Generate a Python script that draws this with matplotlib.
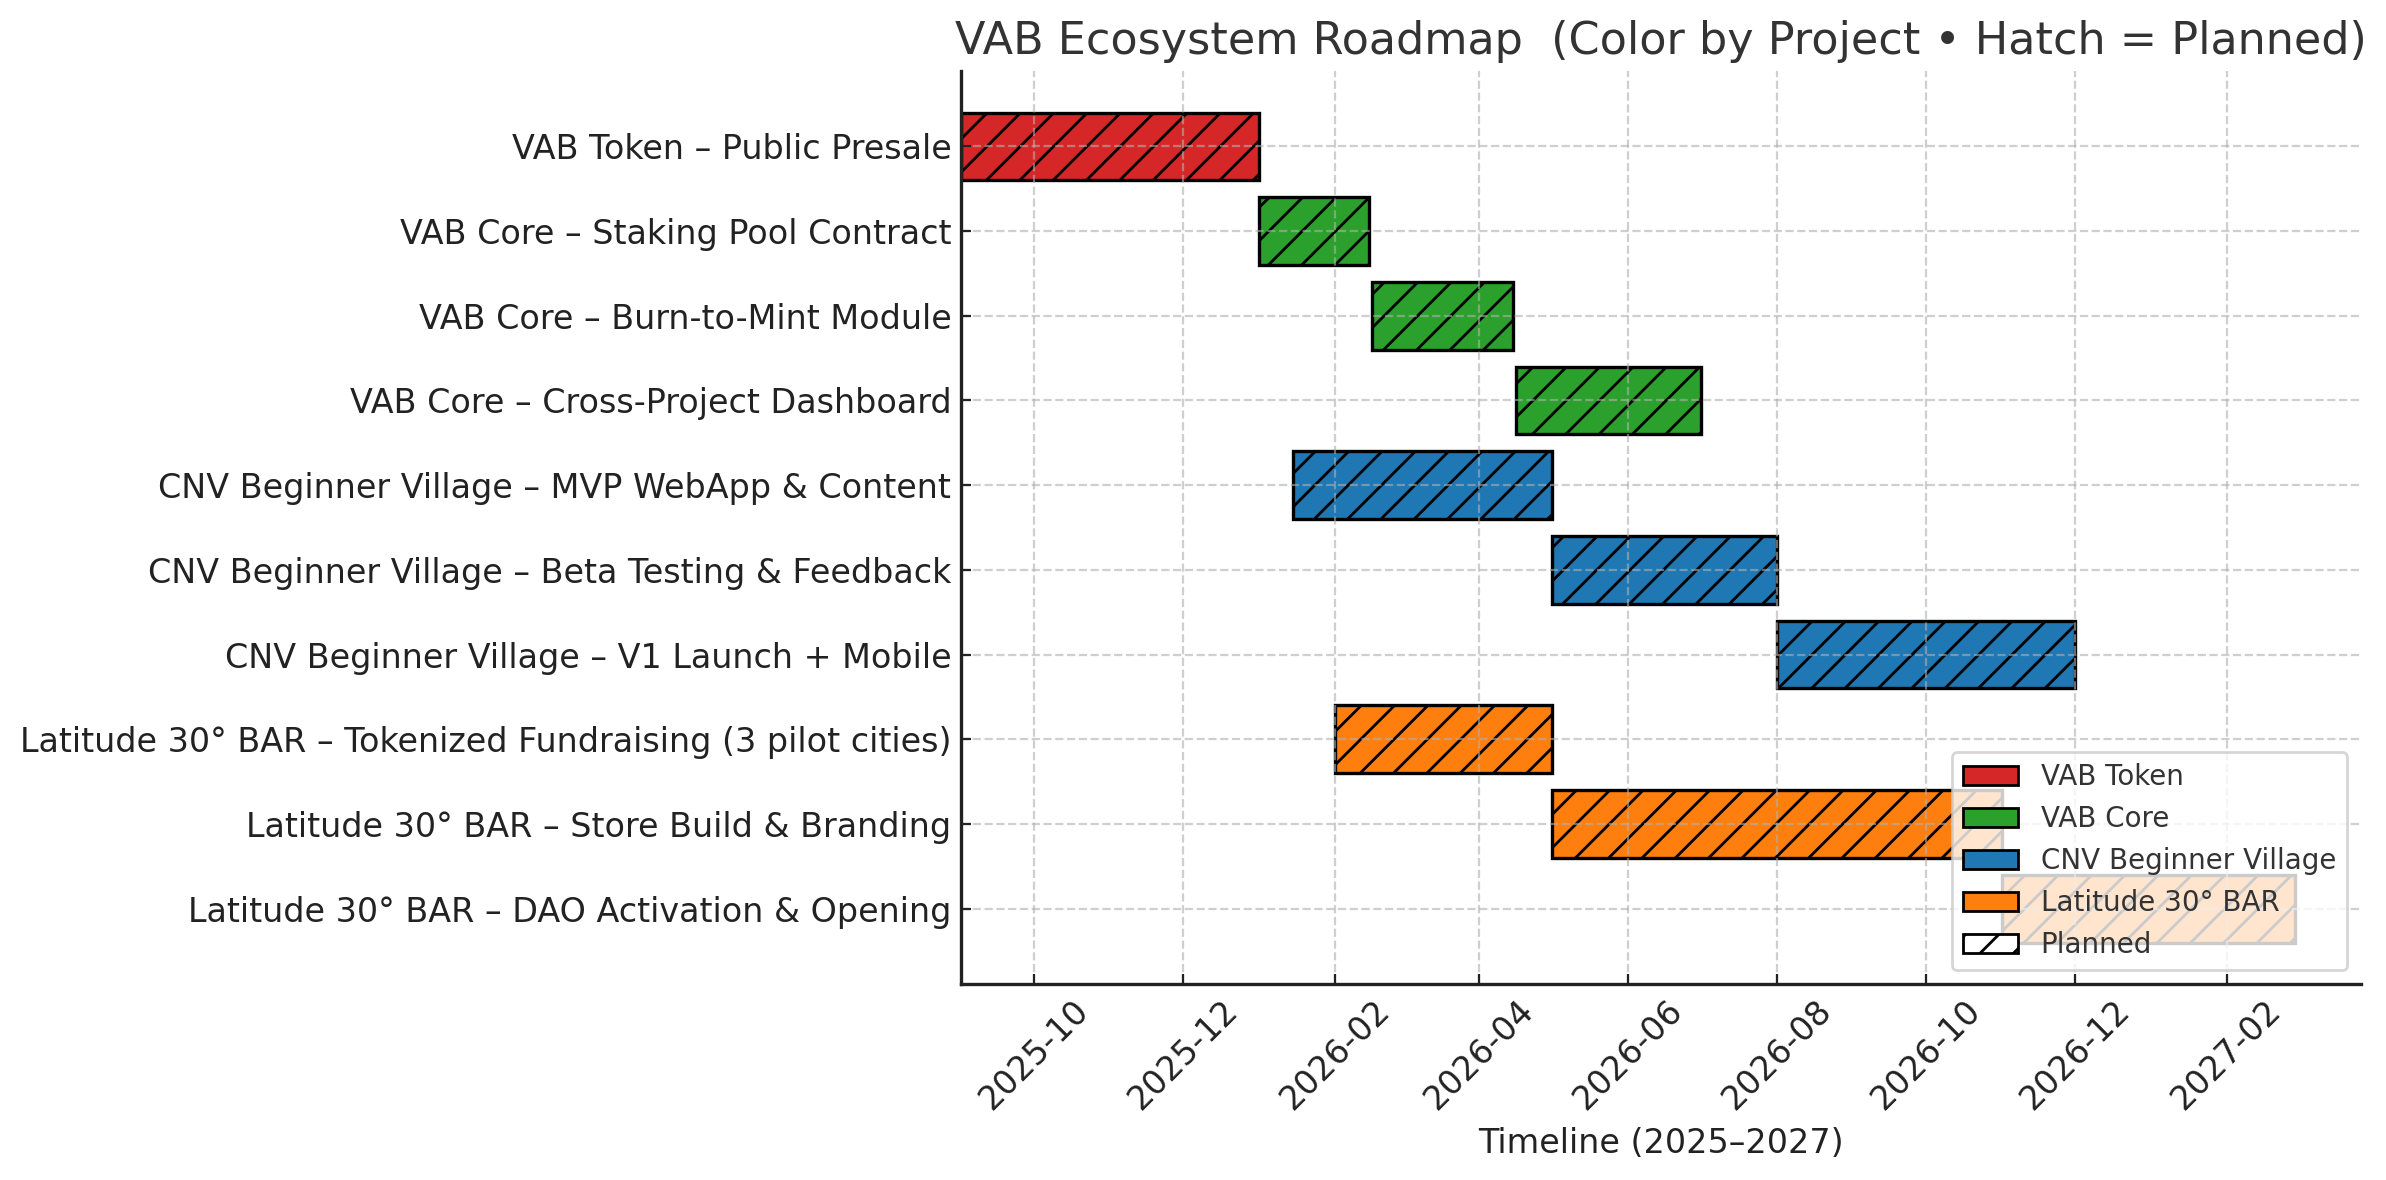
import pandas as pd
import matplotlib
matplotlib.use("Agg")
import matplotlib.pyplot as plt
import matplotlib.dates as mdates
from matplotlib.patches import Patch

# Roadmap tasks, top to bottom
TASKS = [
    "VAB Token – Public Presale",
    "VAB Core – Staking Pool Contract",
    "VAB Core – Burn-to-Mint Module",
    "VAB Core – Cross-Project Dashboard",
    "CNV Beginner Village – MVP WebApp & Content",
    "CNV Beginner Village – Beta Testing & Feedback",
    "CNV Beginner Village – V1 Launch + Mobile",
    "Latitude 30° BAR – Tokenized Fundraising (3 pilot cities)",
    "Latitude 30° BAR – Store Build & Branding",
    "Latitude 30° BAR – DAO Activation & Opening",
]
PROJECTS = [
    "VAB Token", "VAB Core", "VAB Core", "VAB Core",
    "CNV Beginner Village", "CNV Beginner Village", "CNV Beginner Village",
    "Latitude 30° BAR", "Latitude 30° BAR", "Latitude 30° BAR",
]
STARTS = [
    "2025-09-01", "2026-01-01", "2026-02-16", "2026-04-16",
    "2026-01-15", "2026-05-01", "2026-08-01",
    "2026-02-01", "2026-05-01", "2026-11-01",
]
ENDS = [
    "2026-01-01", "2026-02-15", "2026-04-15", "2026-07-01",
    "2026-05-01", "2026-08-01", "2026-12-01",
    "2026-05-01", "2026-11-01", "2027-03-01",
]

PROJECT_ORDER = ["VAB Token", "VAB Core", "CNV Beginner Village", "Latitude 30° BAR"]
PROJECT_COLORS = {
    "VAB Token": "#d62728",
    "VAB Core": "#2ca02c",
    "CNV Beginner Village": "#1f77b4",
    "Latitude 30° BAR": "#ff7f0e",
}

X_RANGE = ("2025-09-01", "2027-03-28")

TEXT = "#222222"


def main():
    starts = pd.to_datetime(STARTS)
    ends = pd.to_datetime(ENDS)
    s_num = mdates.date2num(starts)
    durations = mdates.date2num(ends) - s_num

    fig = plt.figure(figsize=(11.93, 5.9), dpi=200)
    ax = fig.add_axes([0.4028, 0.1661, 0.9895 - 0.4028, 0.9398 - 0.1661])

    ypos = list(range(len(TASKS)))
    ax.barh(ypos, durations, left=s_num, height=0.8,
            color=[PROJECT_COLORS[p] for p in PROJECTS],
            edgecolor="black", linewidth=1.2, hatch="//")

    ax.set_yticks(ypos)
    ax.set_yticklabels(TASKS)
    ax.invert_yaxis()

    ax.set_xlim(mdates.date2num(pd.to_datetime(X_RANGE[0])),
                mdates.date2num(pd.to_datetime(X_RANGE[1])))
    ax.xaxis.set_major_locator(mdates.MonthLocator(bymonth=[2, 4, 6, 8, 10, 12]))
    ax.xaxis.set_major_formatter(mdates.DateFormatter("%Y-%m"))
    plt.setp(ax.get_xticklabels(), rotation=45)

    ax.tick_params(axis="both", direction="in", labelsize=12, colors=TEXT)
    ax.grid(True, linestyle="--", alpha=0.6)
    for side in ("top", "right"):
        ax.spines[side].set_visible(False)
    for side in ("left", "bottom"):
        ax.spines[side].set_color(TEXT)
        ax.spines[side].set_linewidth(1.2)

    ax.set_xlabel("Timeline (2025–2027)", fontsize=12, color=TEXT)
    ax.set_title("VAB Ecosystem Roadmap  (Color by Project • Hatch = Planned)",
                 fontsize=16, color="#333333")

    handles = [Patch(facecolor=PROJECT_COLORS[p], edgecolor="black", label=p)
               for p in PROJECT_ORDER]
    handles.append(Patch(facecolor="white", edgecolor="black", hatch="//", label="Planned"))
    leg = ax.legend(handles=handles, loc="lower right", fontsize=10, framealpha=0.8)
    for t in leg.get_texts():
        t.set_color("#333333")

    fig.savefig("out.png", dpi=200)


if __name__ == "__main__":
    main()
